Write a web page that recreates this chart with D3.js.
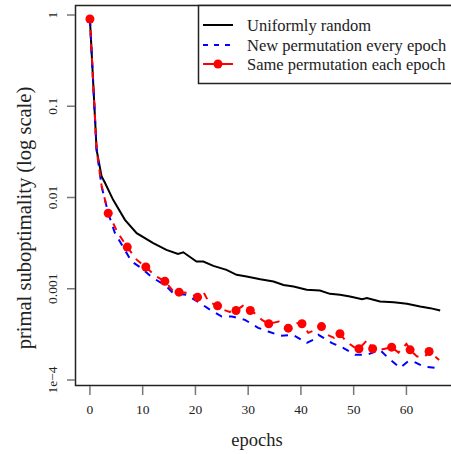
<!DOCTYPE html>
<html><head><meta charset="utf-8">
<script src="https://cdn.jsdelivr.net/npm/d3@7"></script>
<style>body{margin:0;background:#fff}svg{display:block}</style>
</head><body><svg id="c" width="451" height="454" font-family="'Liberation Serif', 'DejaVu Serif', serif"></svg>
<script>
const xTicks = [0,10,20,30,40,50,60];
const yTicks = [1,0.1,0.01,0.001,1e-4];
const yTickLabels = ["1","0.1","0.01","0.001","1e\u22124"];
const legendLabels = ["Uniformly random","New permutation every epoch","Same permutation each epoch"];

const uniformEpochs = [0,1.27,2.22,2.85,4.4,6.64,8.86,12.0,14.5,16.7,17.7,20.2,21.5,23.4,25.9,27.8,29.7,32.3,34.8,36.7,38.6,41.1,43.6,45.5,47.4,49.3,51.6,52.5,55.0,57.6,60.1,62.6,64.5,66.4];
const uniformValues = [0.904,0.0332,0.01695,0.0145,0.00942,0.00569,0.00406,0.00316,0.00267,0.00241,0.00251,0.00199,0.00199,0.00178,0.00161,0.00142,0.00136,0.00127,0.0012,0.0011,0.00106,0.000973,0.000955,0.000879,0.000857,0.000822,0.000769,0.000789,0.000724,0.000713,0.000684,0.000638,0.000613,0.000577];

const newPermEpochs = [0,1.27,2.22,3.47,4.75,7.9,9.8,11.7,14.2,15.8,18.3,20.9,22.8,25.0,26.9,29.4,31.9,33.8,36.1,38.5,41.1,42.3,43.3,45.9,48.0,50.3,52.5,55.0,56.5,58.8,60.3,61.3,63.2,65.5];
const newPermValues = [0.904,0.0332,0.01316,0.00673,0.00406,0.00199,0.00168,0.00134,0.0011,0.000895,0.000857,0.000695,0.000588,0.000496,0.000496,0.000456,0.000373,0.00034,0.000305,0.000313,0.000255,0.000275,0.000313,0.000254,0.000225,0.000189,0.000189,0.000214,0.000175,0.000136,0.00016,0.00016,0.000141,0.000136];

const samePermEpochs = [0,1.27,2.22,3.47,5.3,7.08,8.9,10.6,12.4,14.2,15.6,16.9,18.7,20.4,21.5,22.5,24.2,25.3,26.5,27.7,29.0,30.4,31.4,32.6,33.9,35.8,37.6,38.8,40.2,41.4,42.8,43.9,45.0,46.3,47.4,48.6,50.0,51.0,52.6,53.6,55.0,57.2,58.5,60.0,60.7,62.0,63.5,64.3,66.2];
const samePermValues = [0.904,0.0332,0.0134,0.00673,0.00409,0.00286,0.00207,0.00173,0.00138,0.00121,0.000973,0.000918,0.000901,0.000809,0.000925,0.000719,0.00065,0.000588,0.000558,0.000577,0.00065,0.000577,0.000531,0.000456,0.000413,0.000438,0.00037,0.000423,0.000413,0.000329,0.000355,0.000385,0.000313,0.00029,0.000321,0.000264,0.000231,0.00022,0.000275,0.00022,0.000214,0.000229,0.0002,0.000249,0.000214,0.000181,0.000181,0.000205,0.000166];

const samePermMarkerEpochs = [0,3.47,7.08,10.6,14.2,16.9,20.4,24.2,27.7,30.4,33.9,37.6,40.2,43.9,47.4,51.0,53.6,57.2,60.7,64.3];
const samePermMarkerValues = [0.904,0.00673,0.00286,0.00173,0.00121,0.000918,0.000809,0.00065,0.000577,0.000577,0.000413,0.00037,0.000413,0.000385,0.000321,0.00022,0.00022,0.000229,0.000214,0.000205];

const svg = d3.select("#c");
const ink = "#222";
const x = d3.scaleLinear().domain([-2.64, 68.64]).range([76, 452]);
const y = d3.scaleLog().domain([1e-4, 1]).range([380, 15]);

svg.append("rect").attr("x",75.5).attr("y",5.5).attr("width",400).attr("height",380)
  .attr("fill","none").attr("stroke",ink).attr("stroke-width",1.5);

const yAx = svg.append("g");
yTicks.forEach((t,i)=>{
  yAx.append("line").attr("x1",67).attr("x2",75).attr("y1",y(t)).attr("y2",y(t)).attr("stroke","#777").attr("stroke-width",1.5);
  yAx.append("text").attr("transform",`translate(57,${y(t)}) rotate(-90)`).attr("text-anchor","middle")
    .attr("font-size",13.5).attr("fill",ink).text(yTickLabels[i]);
});
svg.append("text").attr("transform",`translate(31,218) rotate(-90)`).attr("text-anchor","middle")
  .attr("font-size",20.5).attr("fill",ink).text("primal suboptimality (log scale)");

const xAx = svg.append("g");
xTicks.forEach(t=>{
  xAx.append("line").attr("x1",x(t)).attr("x2",x(t)).attr("y1",386).attr("y2",395).attr("stroke","#777").attr("stroke-width",1.5);
  xAx.append("text").attr("x",x(t)).attr("y",414).attr("text-anchor","middle").attr("font-size",13.5).attr("fill",ink).text(t);
});
svg.append("text").attr("x",257).attr("y",446).attr("text-anchor","middle").attr("font-size",18.5).attr("fill",ink).text("epochs");

const line = d3.line().x(d=>x(d[0])).y(d=>y(d[1]));
const g = svg.append("g");
g.append("path").datum(d3.zip(uniformEpochs,uniformValues)).attr("d",line)
  .attr("fill","none").attr("stroke","#000").attr("stroke-width",2);
g.append("path").datum(d3.zip(newPermEpochs,newPermValues)).attr("d",line)
  .attr("fill","none").attr("stroke","#0000ff").attr("stroke-width",2).attr("stroke-dasharray","7,7");
g.append("path").datum(d3.zip(samePermEpochs,samePermValues)).attr("d",line)
  .attr("fill","none").attr("stroke","#ff0000").attr("stroke-width",2).attr("stroke-dasharray","7,7").attr("stroke-dashoffset",3);
g.selectAll("circle.m").data(d3.zip(samePermMarkerEpochs,samePermMarkerValues)).join("circle")
  .attr("cx",d=>x(d[0])).attr("cy",d=>y(d[1])).attr("r",4.5).attr("fill","#ff0000");

svg.append("rect").attr("x",198.5).attr("y",5.5).attr("width",300).attr("height",78)
  .attr("fill","#fff").attr("stroke",ink).attr("stroke-width",1.5);
const lg = svg.append("g");
const rows = [25,45,64];
lg.append("line").attr("x1",203).attr("x2",233).attr("y1",rows[0]).attr("y2",rows[0]).attr("stroke","#000").attr("stroke-width",2);
lg.append("line").attr("x1",203).attr("x2",233).attr("y1",rows[1]).attr("y2",rows[1]).attr("stroke","#0000ff").attr("stroke-width",2).attr("stroke-dasharray","5,6");
lg.append("line").attr("x1",203).attr("x2",233).attr("y1",rows[2]).attr("y2",rows[2]).attr("stroke","#ff0000").attr("stroke-width",2);
lg.append("circle").attr("cx",218).attr("cy",rows[2]).attr("r",4.5).attr("fill","#ff0000");
legendLabels.forEach((l,i)=>{
  lg.append("text").attr("x",247).attr("y",rows[i]+5.5).attr("font-size",16.5).attr("fill",ink).text(l);
});
</script></body></html>
